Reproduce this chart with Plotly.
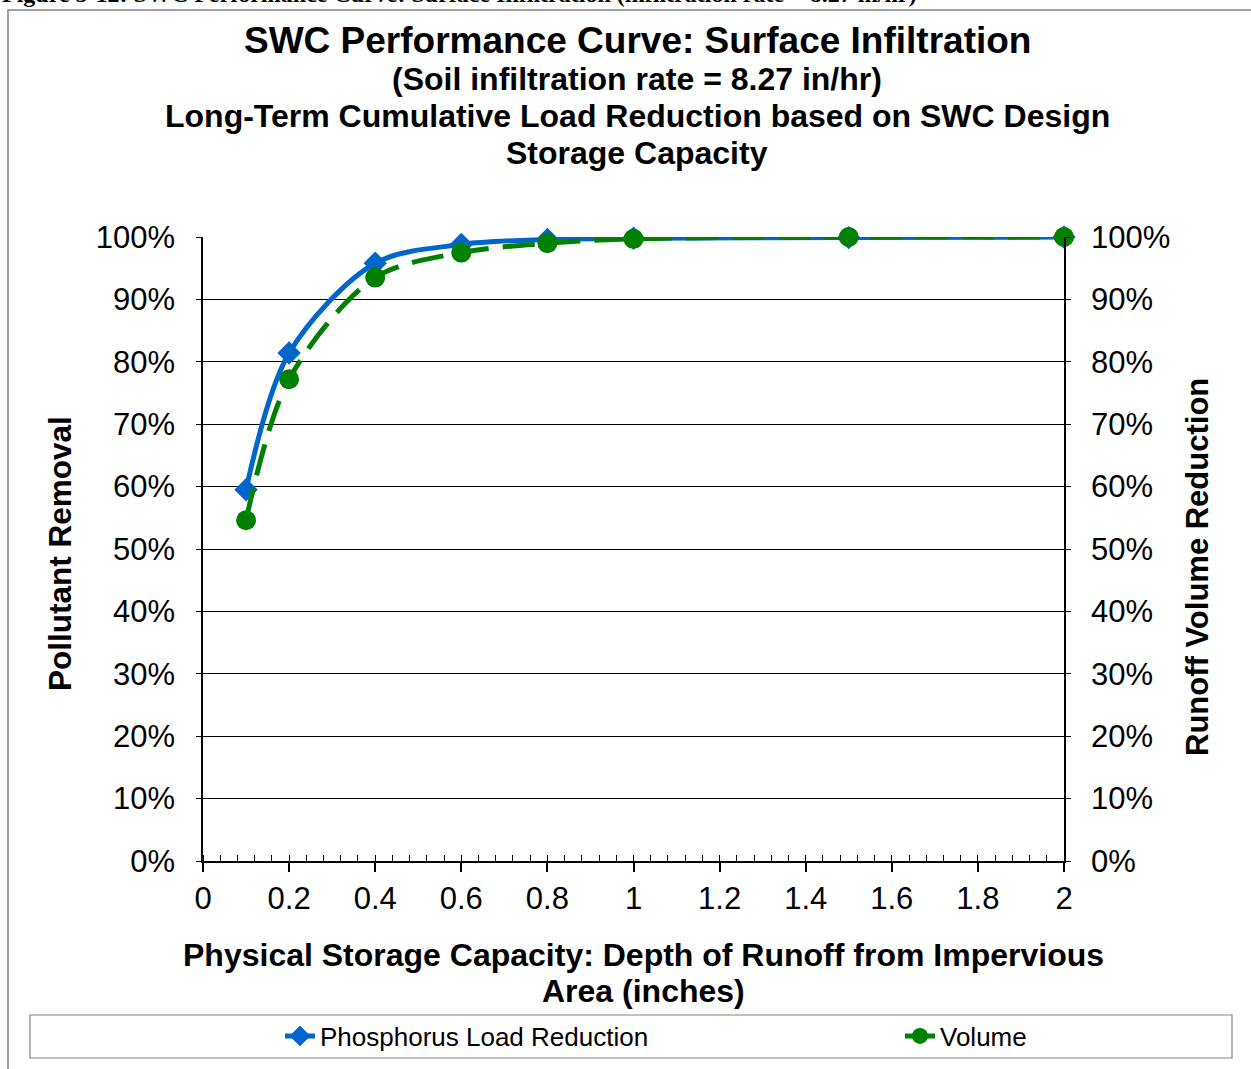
import plotly.graph_objects as go

# Storage depth (inches) and long-term cumulative reductions
depth = [0.1, 0.2, 0.4, 0.6, 0.8, 1.0, 1.5, 2.0]
phosphorus = [0.595, 0.814, 0.958, 0.988, 0.996, 0.998, 0.999, 1.0]
volume = [0.546, 0.772, 0.935, 0.975, 0.990, 0.997, 1.0, 1.0]

W, H = 1251, 1069
L, R, T, B = 203, 1064, 237, 861  # plot area in pixels


def px_x(p):
    return (p - L) / (R - L)


def px_y(p):
    return (B - p) / (B - T)


FONT = "Liberation Sans, Arial, sans-serif"
BLUE = "#0066CC"
GREEN = "#008000"

fig = go.Figure()
fig.add_trace(go.Scatter(
    x=depth, y=phosphorus, name="Phosphorus Load Reduction", legend="legend",
    mode="lines+markers", line=dict(color=BLUE, width=5, shape="spline", smoothing=0.9),
    marker=dict(symbol="diamond", size=18, color=BLUE), cliponaxis=False,
))
fig.add_trace(go.Scatter(
    x=depth, y=volume, name="Volume", yaxis="y2", legend="legend2",
    mode="lines+markers",
    line=dict(color=GREEN, width=5, dash="32px,14px", shape="spline", smoothing=0.9),
    marker=dict(symbol="circle", size=20, color=GREEN), cliponaxis=False,
))

tick_font = dict(family=FONT, size=31, color="black")
legend_font = dict(family=FONT, size=26, color="black")
fig.update_layout(
    width=W, height=H,
    margin=dict(l=L, r=W - R, t=T, b=H - B, autoexpand=False),
    paper_bgcolor="white", plot_bgcolor="white",
    showlegend=True,
    legend=dict(x=px_x(280), xanchor="left", y=px_y(1036), yanchor="middle",
                font=legend_font, bgcolor="rgba(0,0,0,0)", borderwidth=0),
    legend2=dict(x=px_x(900), xanchor="left", y=px_y(1036), yanchor="middle",
                 font=legend_font, bgcolor="rgba(0,0,0,0)", borderwidth=0),
    xaxis=dict(
        range=[0, 2], dtick=0.2, tick0=0, showgrid=False, zeroline=False,
        showline=True, linecolor="black", linewidth=1.5,
        ticks="outside", ticklen=9, tickcolor="black", tickwidth=1.5,
        minor=dict(dtick=0.04, ticks="inside", ticklen=6, tickcolor="black", tickwidth=1),
        tickfont=tick_font, tickformat="~g", ticklabelstandoff=0,
    ),
    yaxis=dict(
        range=[0, 1], dtick=0.1, tickformat=".0%", zeroline=False,
        showgrid=True, gridcolor="black", gridwidth=1,
        showline=True, linecolor="black", linewidth=1.5,
        ticks="outside", ticklen=5, tickcolor="black",
        tickfont=tick_font, ticklabelstandoff=15,
    ),
    yaxis2=dict(
        range=[0, 1], dtick=0.1, tickformat=".0%", overlaying="y", side="right",
        showgrid=False, zeroline=False,
        showline=True, linecolor="black", linewidth=1.5,
        ticks="outside", ticklen=5, tickcolor="black",
        tickfont=tick_font, ticklabelstandoff=14,
    ),
)

# Outer chart frame and legend box
fig.add_shape(type="rect", xref="paper", yref="paper",
              x0=px_x(8), x1=px_x(1265), y0=px_y(1085), y1=px_y(10),
              line=dict(color="#858585", width=1.5), layer="below")
fig.add_shape(type="rect", xref="paper", yref="paper",
              x0=px_x(30), x1=px_x(1232), y0=px_y(1058), y1=px_y(1015),
              line=dict(color="#858585", width=1.2), layer="below")

bold = lambda s: dict(family=FONT, size=s, color="black", weight="bold")
texts = [
    ("SWC Performance Curve: Surface Infiltration", 637, 40, 37),
    ("(Soil infiltration rate = 8.27 in/hr)", 637, 79, 32),
    ("Long-Term Cumulative Load Reduction based on SWC Design", 637, 116, 32),
    ("Storage Capacity", 637, 153, 32),
    ("Physical Storage Capacity: Depth of Runoff from Impervious", 643, 955, 32),
    ("Area (inches)", 643, 991, 32),
]
for txt, cx, cy, sz in texts:
    fig.add_annotation(text=txt, xref="paper", yref="paper", x=px_x(cx), y=px_y(cy),
                       xanchor="center", yanchor="middle", showarrow=False, font=bold(sz))

fig.add_annotation(text="Pollutant Removal", xref="paper", yref="paper",
                   x=px_x(60), y=px_y(554), textangle=-90, xanchor="center", yanchor="middle",
                   showarrow=False, font=bold(31.5))
fig.add_annotation(text="Runoff Volume Reduction", xref="paper", yref="paper",
                   x=px_x(1197), y=px_y(567), textangle=-90, xanchor="center", yanchor="middle",
                   showarrow=False, font=bold(31))

# Figure caption running above the frame
fig.add_annotation(text="Figure 5-12: SWC Performance Curve: Surface Infiltration (infiltration rate = 8.27 in/hr)",
                   xref="paper", yref="paper", x=px_x(0), y=px_y(-6), xanchor="left", yanchor="middle",
                   showarrow=False,
                   font=dict(family="Liberation Serif, serif", size=24, color="black", weight="bold"))

fig.write_html("out.html")
